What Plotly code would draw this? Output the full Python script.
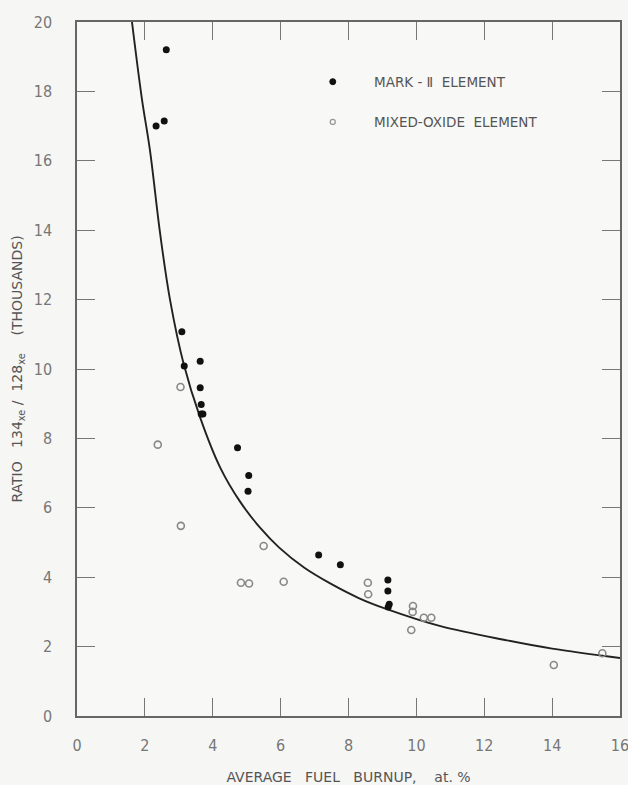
import plotly.graph_objects as go

# Mark-II element (filled dots)
mark2_x = [2.63, 2.33, 2.57, 3.09, 3.16, 3.63, 3.63, 3.66, 3.66, 3.71, 4.73, 5.06, 5.04, 7.12, 7.76, 9.16, 9.16, 9.20, 9.17]
mark2_y = [19.2, 17.0, 17.15, 11.07, 10.09, 10.22, 9.46, 8.98, 8.70, 8.70, 7.73, 6.93, 6.48, 4.64, 4.36, 3.92, 3.60, 3.22, 3.14]

# Mixed-oxide element (open circles)
mox_x = [3.05, 2.38, 3.06, 5.50, 4.83, 5.07, 6.09, 8.57, 8.58, 9.90, 9.89, 9.85, 10.22, 10.44, 14.05, 15.48]
mox_y = [9.48, 7.82, 5.48, 4.90, 3.84, 3.82, 3.87, 3.84, 3.51, 3.17, 3.00, 2.48, 2.83, 2.83, 1.47, 1.81]

# Fitted curve, points
curve_x = [1.62, 1.91, 2.15, 2.45, 2.74, 3.14, 3.63, 4.22, 4.81, 5.40, 5.95, 6.70, 7.46, 8.30, 9.13, 10.71, 12.67, 14.0, 16.0]
curve_y = [20.0, 17.8, 16.3, 13.9, 12.0, 10.16, 8.60, 7.16, 6.17, 5.42, 4.86, 4.27, 3.82, 3.40, 3.08, 2.59, 2.18, 1.94, 1.67]

x_ticks = [0, 2, 4, 6, 8, 10, 12, 14, 16]
y_ticks = [0, 2, 4, 6, 8, 10, 12, 14, 16, 18, 20]

TICKFONT = "DejaVu Sans Condensed, Liberation Sans Narrow, sans-serif"
FONT = "DejaVu Sans, Liberation Sans, sans-serif"
INK = "#555"

fig = go.Figure()
fig.add_trace(go.Scatter(x=curve_x, y=curve_y, mode="lines",
                         line=dict(color="#222", width=1.9, shape="spline", smoothing=1.0),
                         showlegend=False, hoverinfo="skip"))
fig.add_trace(go.Scatter(x=mark2_x, y=mark2_y, mode="markers", name="MARK-II ELEMENT",
                         marker=dict(symbol="circle", size=7, color="#111"), showlegend=False))
fig.add_trace(go.Scatter(x=mox_x, y=mox_y, mode="markers", name="MIXED-OXIDE ELEMENT",
                         marker=dict(symbol="circle-open", size=7, color="#888", line=dict(width=1.6)), showlegend=False))

# legend drawn by hand
leg_x = 0.471
fig.add_shape(type="circle", xref="paper", yref="paper", xsizemode="pixel", ysizemode="pixel",
              xanchor=leg_x, yanchor=0.914, x0=-3, x1=3, y0=-3, y1=3, fillcolor="#111", line=dict(color="#111", width=1))
fig.add_shape(type="circle", xref="paper", yref="paper", xsizemode="pixel", ysizemode="pixel",
              xanchor=leg_x, yanchor=0.856, x0=-2.5, x1=2.5, y0=-2.5, y1=2.5, fillcolor="rgba(0,0,0,0)",
              line=dict(color="#999", width=1.3))
fig.add_annotation(xref="paper", yref="paper", x=0.543, y=0.914, xanchor="left", yanchor="middle", showarrow=False,
                   text="MARK - \u2161  ELEMENT", font=dict(family=FONT, size=13.5, color=INK))
fig.add_annotation(xref="paper", yref="paper", x=0.543, y=0.856, xanchor="left", yanchor="middle", showarrow=False,
                   text="MIXED-OXIDE  ELEMENT", font=dict(family=FONT, size=13.5, color=INK))

axis_common = dict(showgrid=False, zeroline=False, showline=True, linecolor="#666", linewidth=1.5,
                   ticks="inside", ticklen=18, tickwidth=1.2, tickcolor="#777", mirror="ticks",
                   automargin=False, ticklabeloverflow="allow",
                   tickfont=dict(family=TICKFONT, size=16, color="#777"))

fig.update_xaxes(range=[0, 16], tickvals=x_ticks, ticktext=[str(v) for v in x_ticks], ticklabelstandoff=14,
                 title=dict(text="AVERAGE   FUEL   BURNUP,    at. %", font=dict(family=FONT, size=14, color=INK), standoff=18),
                 **axis_common)
fig.update_yaxes(range=[0, 20], tickvals=y_ticks, ticktext=[str(v) for v in y_ticks], ticklabelstandoff=20,
                 title=dict(text="RATIO   134<sub>xe</sub> /  128<sub>xe</sub>    (THOUSANDS)",
                            font=dict(family=FONT, size=14, color=INK), standoff=8),
                 **axis_common)

fig.update_layout(width=628, height=785, margin=dict(l=77, r=8, t=22, b=69, autoexpand=False),
                  paper_bgcolor="#f6f6f4", plot_bgcolor="#f8f8f6", showlegend=False)

fig.write_html("out.html", config={"displayModeBar": False},
               post_script="document.body.style.margin='0';document.body.style.overflow='hidden';")
